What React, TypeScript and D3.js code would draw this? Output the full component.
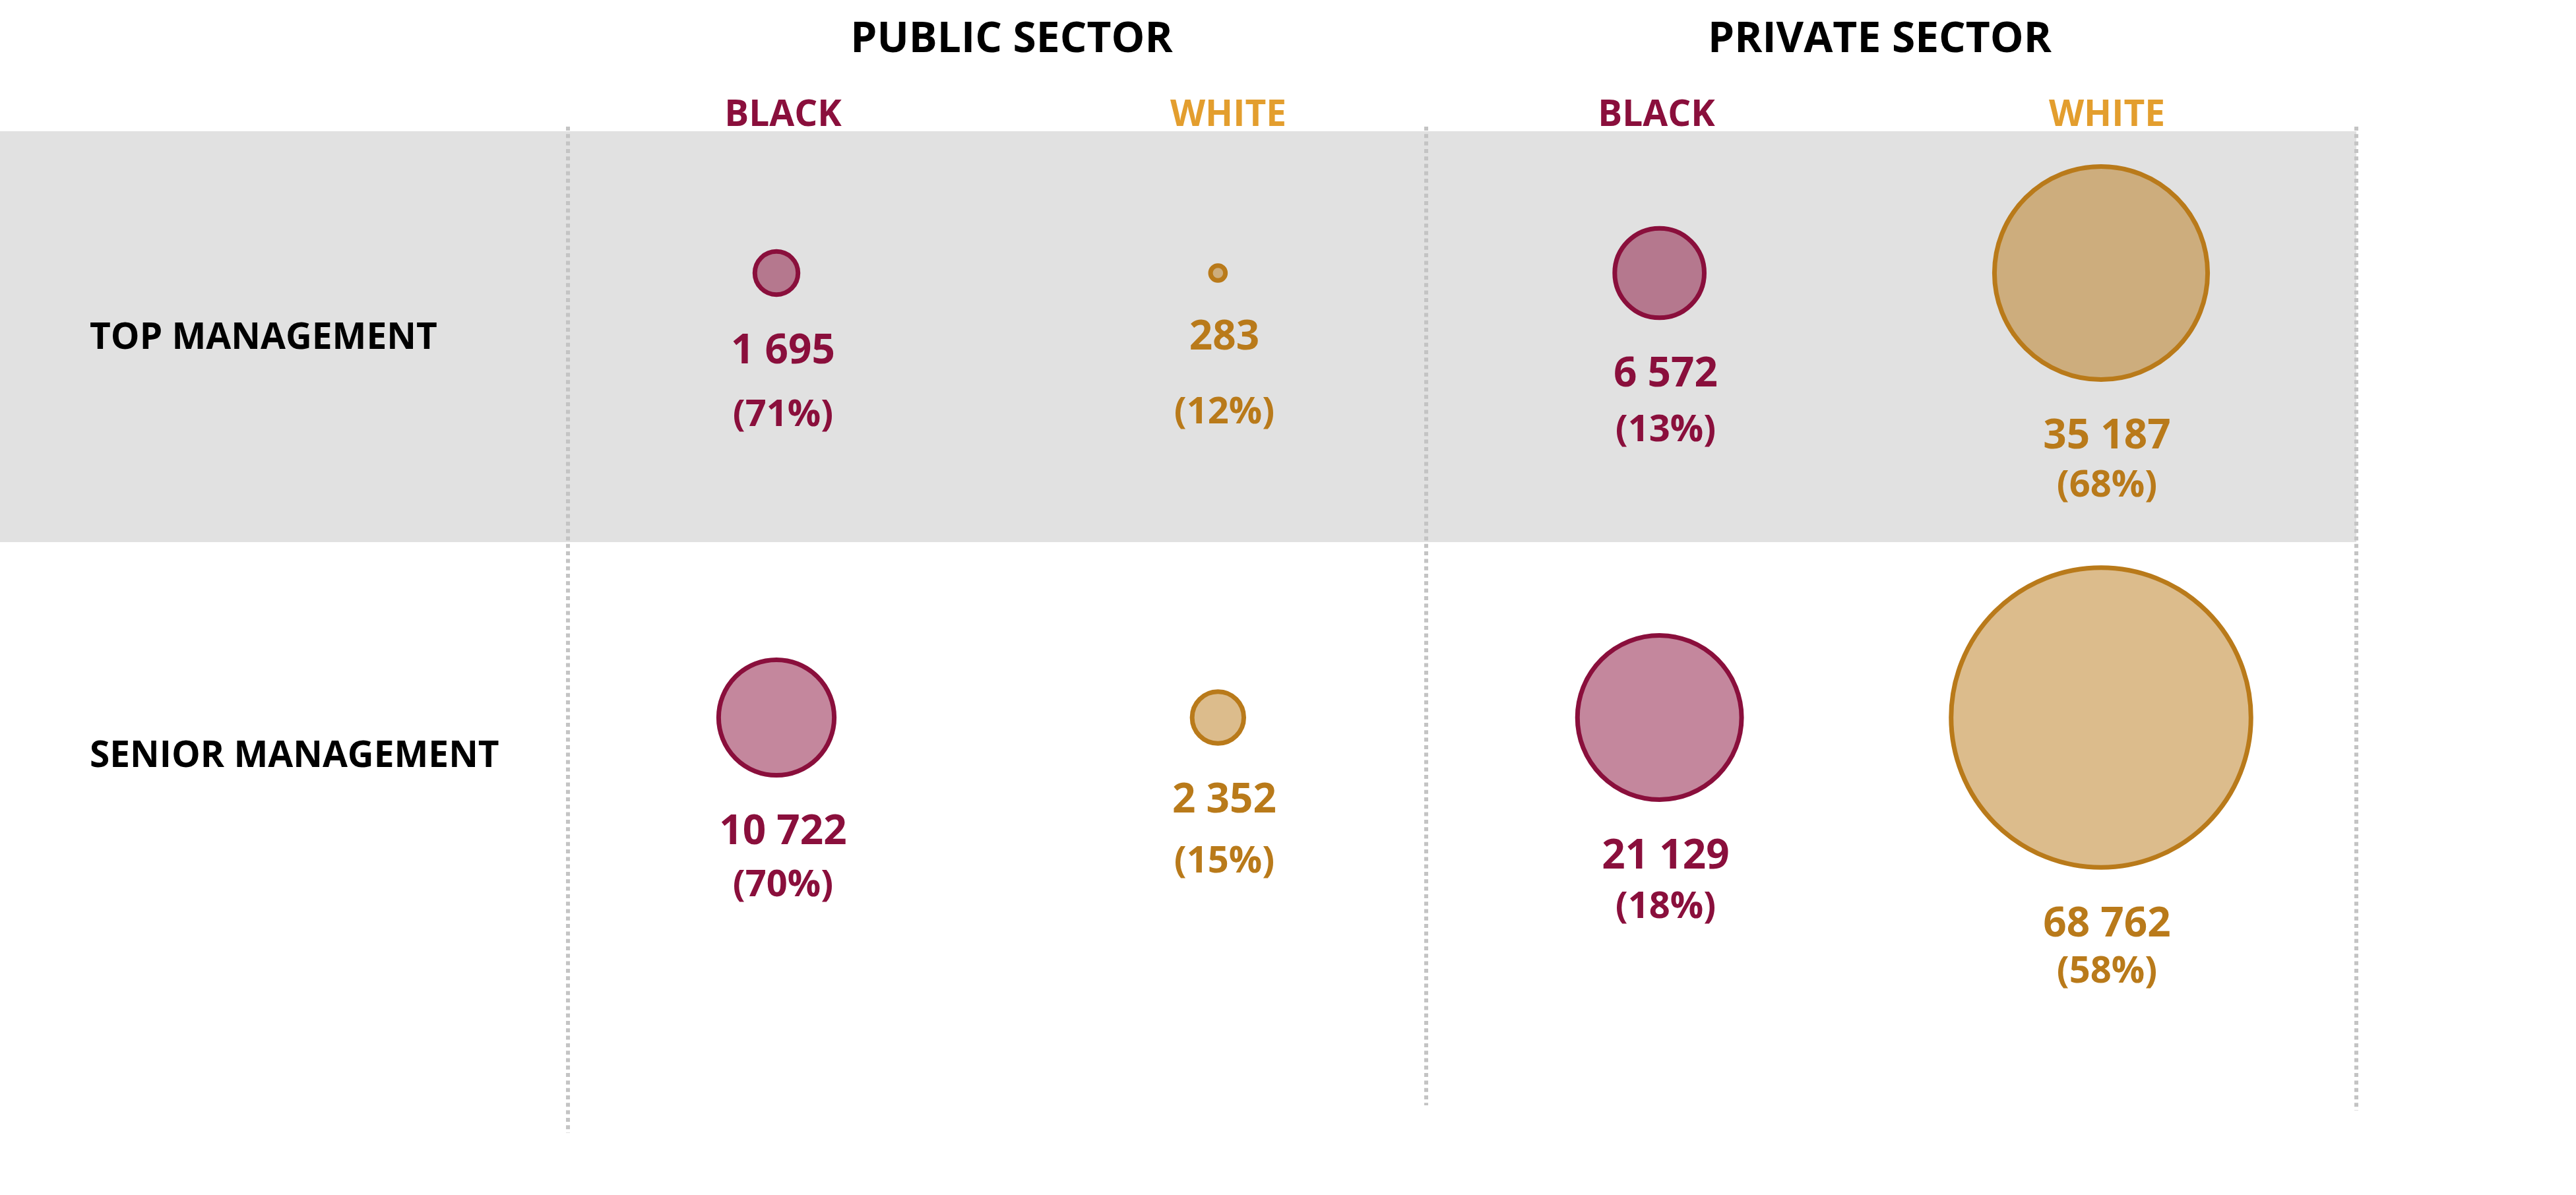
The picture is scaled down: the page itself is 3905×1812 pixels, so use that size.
import * as d3 from 'd3'

const sectors = ['PUBLIC SECTOR', 'PRIVATE SECTOR']
const races = ['BLACK', 'WHITE']
const levels = ['TOP MANAGEMENT', 'SENIOR MANAGEMENT']
// columns: public black, public white, private black, private white
const topCounts = [1695, 283, 6572, 35187]
const seniorCounts = [10722, 2352, 21129, 68762]
const topShares = [71, 12, 13, 68]
const seniorShares = [70, 15, 18, 58]

const W = 3905
const H = 1812
const maroon = '#8a0f3c'
const gold = '#b97a1a'
const goldHead = '#e39e2e'
const FONT = "'Open Sans', 'Noto Sans', sans-serif"

const fmt = d3.formatLocale({ decimal: '.', thousands: ' ', grouping: [3], currency: ['', ''] }).format(',')

export default function App() {
    const columns = d3.range(sectors.length * races.length)
    // text columns and circle columns are slightly offset in the original
    const xText = d3.scalePoint<number>().domain(columns).range([1187, 3194])
    const xDot = d3.scalePoint<number>().domain(columns).range([1177, 3185])
    const yDot = d3.scalePoint<string>().domain(levels).range([414, 1088])
    const yLabel = d3.scalePoint<string>().domain(levels).range([529, 1163])
    const r = d3.scaleSqrt().domain([0, 1]).range([0, 0.88])

    const rows = [
        { level: levels[0], counts: topCounts, shares: topShares },
        { level: levels[1], counts: seniorCounts, shares: seniorShares },
    ]
    const dividers = [
        { x: 861, y2: 1718 },
        { x: 2162, y2: 1676 },
        { x: 3572, y2: 1684 },
    ]

    return (
        <svg
            width={W}
            height={H}
            viewBox={`0 0 ${W} ${H}`}
            style={{ position: 'absolute', left: 0, top: 0, background: '#fff' }}
            fontFamily={FONT}
            fontWeight={700}
        >
            {/* grey band behind top management */}
            <rect x={0} y={199} width={3572} height={623} fill='#e1e1e1' />

            {dividers.map((d, i) => (
                <line
                    key={i}
                    x1={d.x}
                    x2={d.x}
                    y1={192}
                    y2={d.y2}
                    stroke='#c4c4c4'
                    strokeWidth={6}
                    strokeDasharray='6 5.3'
                />
            ))}

            {sectors.map((s, i) => (
                <text
                    key={s}
                    x={((xText(i * 2) as number) + (xText(i * 2 + 1) as number)) / 2 + (i === 0 ? 12 : -10)}
                    y={79}
                    textAnchor='middle'
                    fontSize={64}
                    fill='#000'
                >
                    {s}
                </text>
            ))}

            {columns.map((c) => (
                <text
                    key={c}
                    x={(xText(c) as number) + (c === 1 ? 6 : c === 2 ? -14 : 0)}
                    y={191}
                    textAnchor='middle'
                    fontSize={55}
                    fill={c % 2 === 0 ? maroon : goldHead}
                >
                    {races[c % 2]}
                </text>
            ))}

            {rows.map((row) => (
                <g key={row.level}>
                    <text x={136} y={yLabel(row.level)} fontSize={55} fill='#000'>
                        {row.level}
                    </text>
                    {row.counts.map((v, c) => {
                        const cx = xDot(c) as number
                        const cy = yDot(row.level) as number
                        const rr = r(v)
                        const col = c % 2 === 0 ? maroon : gold
                        const numY = cy + rr + 101
                        const pctY = numY + 62 + 2000 / (rr + 25)
                        return (
                            <g key={c}>
                                <circle
                                    cx={cx}
                                    cy={cy}
                                    r={rr - 3.5}
                                    fill={col}
                                    fillOpacity={0.5}
                                    stroke={col}
                                    strokeWidth={7}
                                />
                                <text x={xText(c)} y={numY} textAnchor='middle' fontSize={62} fill={col}>
                                    {fmt(v)}
                                </text>
                                <text x={xText(c)} y={pctY} textAnchor='middle' fontSize={56} fill={col}>
                                    ({row.shares[c]}%)
                                </text>
                            </g>
                        )
                    })}
                </g>
            ))}
        </svg>
    )
}
